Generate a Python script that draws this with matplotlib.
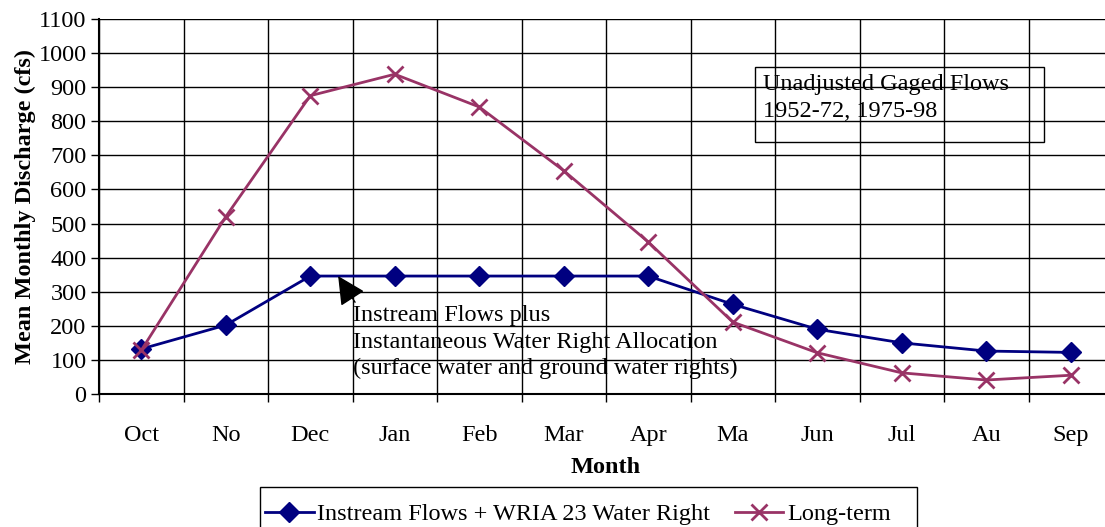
import numpy as np
import matplotlib.pyplot as plt

# Data
months = ['Oct', 'No', 'Dec', 'Jan', 'Feb', 'Mar', 'Apr', 'Ma', 'Jun', 'Jul', 'Au', 'Sep']
instream = [132, 202, 346, 346, 346, 346, 346, 263, 190, 150, 126, 122]
long_term = [128, 520, 875, 938, 842, 655, 446, 211, 121, 62, 41, 55]

plt.rcParams['font.family'] = ['Liberation Serif', 'DejaVu Serif']
FS = 17.5

fig = plt.figure(figsize=(11.05, 5.27), dpi=100)
W, H = 1105, 527
# axes from x=99..1113 px, y=19..394 px (right edge runs off the figure)
ax = fig.add_axes([99 / W, 1 - 394 / H, (1113 - 99) / W, (394 - 19) / H])

x = np.arange(len(months))
blue = '#000080'
plum = '#993366'

ax.plot(x, instream, color=blue, lw=2, marker='D', ms=10, mfc=blue, mec=blue,
        label='Instream Flows + WRIA 23 Water Right', zorder=3)
ax.plot(x, long_term, color=plum, lw=2, marker='x', ms=12, mew=2,
        label='Long-term', zorder=3)

ax.set_xlim(-0.5, len(months) - 0.5)
ax.set_ylim(0, 1100)
ax.set_yticks(np.arange(0, 1101, 100))
ax.set_xticks(x)
ax.set_xticklabels(months, fontsize=FS)
ax.set_xticks(np.arange(-0.5, len(months), 1), minor=True)
ax.tick_params(axis='x', which='major', length=0, pad=22)
ax.tick_params(axis='x', which='minor', length=6, width=1, direction='out')
ax.tick_params(axis='y', labelsize=FS, length=6, width=1, direction='out', pad=3)
ax.grid(True, which='minor', axis='x', color='black', lw=1)
ax.grid(True, which='major', axis='y', color='black', lw=1)
for s in ax.spines.values():
    s.set_color('black')
ax.spines['left'].set_linewidth(1.5)
ax.spines['bottom'].set_linewidth(1.5)
ax.spines['top'].set_visible(False)
ax.spines['right'].set_visible(False)

ax.set_xlabel('Month', fontsize=FS, fontweight='bold', labelpad=8)
ax.set_ylabel('Mean Monthly Discharge (cfs)', fontsize=FS, fontweight='bold', labelpad=2)

fig.text(763 / W, 1 - 98 / H, 'Unadjusted Gaged Flows\n1952-72, 1975-98', fontsize=FS,
         va='center', ha='left', linespacing=1.35)
fig.patches.append(plt.Rectangle((755 / W, 1 - 142 / H), (1044 - 755) / W, (142 - 67) / H,
                                 transform=fig.transFigure, fill=False, ec='black', lw=1))

ax.annotate('Instream Flows plus\nInstantaneous Water Right Allocation\n(surface water and ground water rights)',
            xy=(2.33, 346), xycoords='data',
            xytext=(353 / W, 1 - 305 / H), textcoords='figure fraction',
            fontsize=FS, va='top', ha='left', linespacing=1.35,
            arrowprops=dict(arrowstyle='-|>,head_length=1.0,head_width=0.5', color='black', lw=1,
                            shrinkA=0, shrinkB=0, relpos=(0.01, 1.0)))

leg = fig.legend(loc='upper left', bbox_to_anchor=(265 / W, 1 - 503 / H), ncol=2, fontsize=FS,
                 frameon=False, handlelength=2.0, handletextpad=0.15, columnspacing=1.0,
                 borderpad=0, borderaxespad=0)
# legend frame, running off the bottom of the figure
fig.patches.append(plt.Rectangle((260 / W, -0.05), (917 - 260) / W, 0.05 + (527 - 487) / H,
                                 transform=fig.transFigure, fill=False, ec='black', lw=1))

fig.savefig('out.png', dpi=100)
